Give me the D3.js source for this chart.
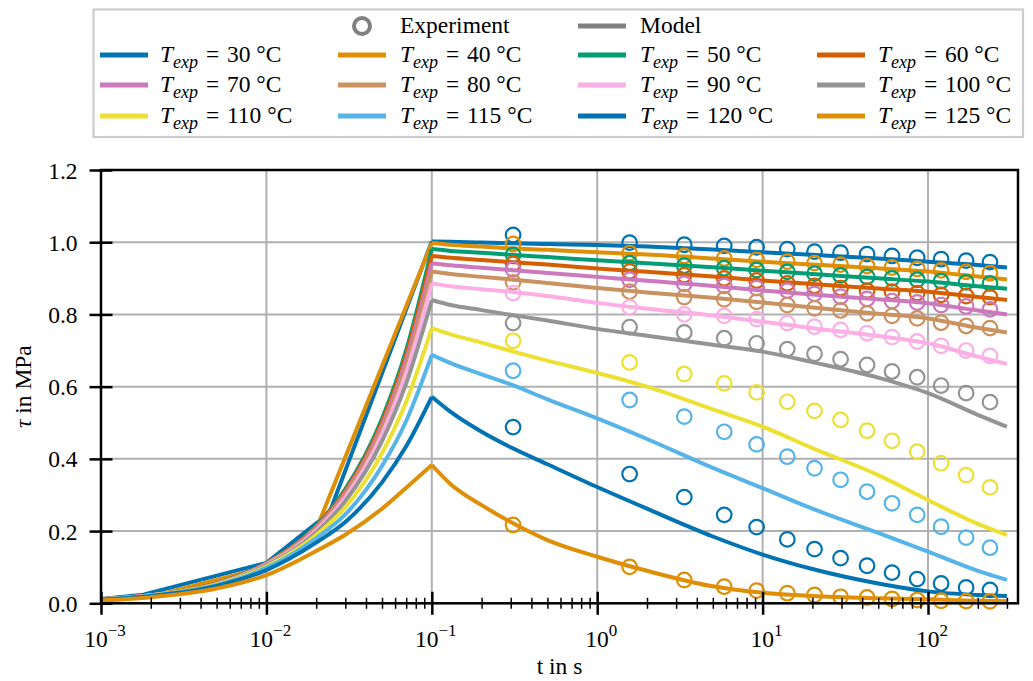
<!DOCTYPE html>
<html>
<head>
<meta charset="utf-8">
<script src="https://cdn.jsdelivr.net/npm/d3@7"></script>
<style>
body { margin: 0; background: #fff; }
svg text { font-family: "Liberation Serif", "DejaVu Serif", serif; fill: #000; }
</style>
</head>
<body>
<svg id="chart" width="1033" height="681"></svg>
<script>
// temperatures of the tests and their colours (colorblind palette)
var temps = [30, 40, 50, 60, 70, 80, 90, 100, 110, 115, 120, 125];
var colors = ["#0173b2", "#de8f05", "#029e73", "#d55e00", "#cc78bc", "#ca9161",
              "#fbafe4", "#949494", "#ece133", "#56b4e9", "#0173b2", "#de8f05"];

// experiment sampling times [s]
var tExp = [0.31, 1.57, 3.36, 5.86, 9.2, 14.1, 20.6, 29.6, 42.8, 60.6, 86, 120, 170, 237];

// measured shear stress [MPa]
var exp30  = [1.020, 0.999, 0.993, 0.990, 0.986, 0.981, 0.974, 0.971, 0.967, 0.962, 0.957, 0.953, 0.949, 0.945];
var exp40  = [0.995, 0.970, 0.962, 0.955, 0.951, 0.946, 0.942, 0.938, 0.934, 0.930, 0.926, 0.922, 0.918, 0.914];
var exp50  = [0.965, 0.942, 0.935, 0.928, 0.923, 0.918, 0.913, 0.908, 0.904, 0.900, 0.896, 0.892, 0.889, 0.886];
var exp60  = [0.940, 0.919, 0.909, 0.900, 0.894, 0.886, 0.879, 0.873, 0.866, 0.863, 0.859, 0.854, 0.851, 0.848];
var exp70  = [0.925, 0.896, 0.885, 0.879, 0.873, 0.866, 0.857, 0.849, 0.843, 0.837, 0.833, 0.826, 0.822, 0.814];
var exp80  = [0.889, 0.863, 0.848, 0.842, 0.835, 0.826, 0.817, 0.811, 0.803, 0.796, 0.789, 0.777, 0.768, 0.762];
var exp90  = [0.859, 0.820, 0.800, 0.796, 0.787, 0.776, 0.766, 0.757, 0.748, 0.737, 0.725, 0.713, 0.700, 0.685];
var exp100 = [0.776, 0.765, 0.750, 0.734, 0.720, 0.704, 0.691, 0.676, 0.660, 0.642, 0.626, 0.603, 0.582, 0.557];
var exp110 = [0.727, 0.667, 0.635, 0.609, 0.584, 0.558, 0.533, 0.508, 0.478, 0.450, 0.420, 0.388, 0.355, 0.321];
var exp115 = [0.644, 0.563, 0.517, 0.475, 0.440, 0.406, 0.374, 0.342, 0.309, 0.277, 0.245, 0.212, 0.182, 0.154];
var exp120 = [0.488, 0.358, 0.294, 0.245, 0.211, 0.177, 0.150, 0.125, 0.104, 0.085, 0.067, 0.055, 0.044, 0.037];
var exp125 = [0.217, 0.101, 0.0645, 0.046, 0.035, 0.028, 0.023, 0.018, 0.016, 0.012, 0.009, 0.007, 0.006, 0.0055];

// model, loading ramp (30 and 40 are coarsely sampled)
var tLoad30 = [0.001, 0.0018, 0.01, 0.024, 0.1];
var tLoad40 = [0.001, 0.002, 0.01, 0.02, 0.1];
var tLoad   = [0.001, 0.002, 0.005, 0.01, 0.02, 0.03, 0.05, 0.07, 0.1];

var load30  = [0.012, 0.024, 0.112, 0.25, 1.002];
var load40  = [0.008, 0.018, 0.100, 0.205, 0.998];
var load50  = [0.011, 0.022, 0.055, 0.112, 0.215, 0.316, 0.511, 0.701, 0.981];
var load60  = [0.011, 0.022, 0.055, 0.111, 0.213, 0.311, 0.502, 0.689, 0.962];
var load70  = [0.011, 0.022, 0.054, 0.110, 0.210, 0.306, 0.493, 0.675, 0.942];
var load80  = [0.011, 0.022, 0.054, 0.109, 0.207, 0.301, 0.484, 0.660, 0.919];
var load90  = [0.011, 0.022, 0.053, 0.107, 0.202, 0.293, 0.469, 0.639, 0.886];
var load100 = [0.011, 0.021, 0.053, 0.105, 0.196, 0.283, 0.449, 0.609, 0.840];
var load110 = [0.011, 0.021, 0.052, 0.102, 0.189, 0.266, 0.416, 0.558, 0.762];
var load115 = [0.011, 0.021, 0.050, 0.098, 0.180, 0.246, 0.380, 0.505, 0.688];
var load120 = [0.010, 0.020, 0.048, 0.092, 0.168, 0.225, 0.335, 0.435, 0.572];
var load125 = [0.008, 0.017, 0.041, 0.078, 0.145, 0.190, 0.262, 0.320, 0.383];

// model, relaxation after the ramp
var tRelax = [0.1, 0.13, 0.2, 0.3, 0.5, 1, 2, 5, 10, 20, 50, 100, 200, 300];
var relax30  = [1.002, 1.001, 0.999, 0.997, 0.995, 0.992, 0.988, 0.980, 0.972, 0.965, 0.955, 0.946, 0.937, 0.930];
var relax40  = [0.998, 0.993, 0.988, 0.983, 0.979, 0.972, 0.966, 0.955, 0.946, 0.938, 0.928, 0.919, 0.905, 0.897];
var relax50  = [0.981, 0.976, 0.971, 0.965, 0.959, 0.950, 0.942, 0.931, 0.921, 0.912, 0.900, 0.891, 0.878, 0.871];
var relax60  = [0.962, 0.957, 0.951, 0.945, 0.938, 0.927, 0.918, 0.905, 0.894, 0.884, 0.872, 0.863, 0.848, 0.840];
var relax70  = [0.942, 0.936, 0.929, 0.923, 0.915, 0.904, 0.893, 0.879, 0.866, 0.855, 0.842, 0.831, 0.811, 0.800];
var relax80  = [0.919, 0.912, 0.904, 0.897, 0.887, 0.873, 0.861, 0.846, 0.833, 0.819, 0.802, 0.789, 0.763, 0.750];
var relax90  = [0.886, 0.878, 0.870, 0.863, 0.851, 0.832, 0.816, 0.797, 0.780, 0.762, 0.740, 0.720, 0.683, 0.663];
var relax100 = [0.840, 0.826, 0.812, 0.799, 0.783, 0.760, 0.741, 0.716, 0.697, 0.668, 0.625, 0.582, 0.522, 0.489];
var relax110 = [0.762, 0.745, 0.722, 0.699, 0.672, 0.638, 0.600, 0.537, 0.489, 0.430, 0.355, 0.286, 0.220, 0.189];
var relax115 = [0.688, 0.665, 0.634, 0.606, 0.565, 0.512, 0.455, 0.375, 0.319, 0.262, 0.195, 0.143, 0.090, 0.065];
var relax120 = [0.572, 0.530, 0.475, 0.432, 0.385, 0.322, 0.262, 0.185, 0.135, 0.095, 0.055, 0.033, 0.023, 0.020];
var relax125 = [0.383, 0.330, 0.272, 0.225, 0.175, 0.129, 0.090, 0.047, 0.029, 0.020, 0.014, 0.011, 0.007, 0.006];

// axis ticks
var xMajor = [1e-3, 1e-2, 1e-1, 1e0, 1e1, 1e2];
var xExpLabels = ["\u22123", "\u22122", "\u22121", "0", "1", "2"];
var yTicks = [0, 0.2, 0.4, 0.6, 0.8, 1.0, 1.2];

var series = [
  { t: 30,  exp: exp30,  tl: tLoad30, load: load30,  relax: relax30,  coarse: true },
  { t: 40,  exp: exp40,  tl: tLoad40, load: load40,  relax: relax40,  coarse: true },
  { t: 50,  exp: exp50,  tl: tLoad,   load: load50,  relax: relax50 },
  { t: 60,  exp: exp60,  tl: tLoad,   load: load60,  relax: relax60 },
  { t: 70,  exp: exp70,  tl: tLoad,   load: load70,  relax: relax70 },
  { t: 80,  exp: exp80,  tl: tLoad,   load: load80,  relax: relax80 },
  { t: 90,  exp: exp90,  tl: tLoad,   load: load90,  relax: relax90 },
  { t: 100, exp: exp100, tl: tLoad,   load: load100, relax: relax100 },
  { t: 110, exp: exp110, tl: tLoad,   load: load110, relax: relax110 },
  { t: 115, exp: exp115, tl: tLoad,   load: load115, relax: relax115 },
  { t: 120, exp: exp120, tl: tLoad,   load: load120, relax: relax120 },
  { t: 125, exp: exp125, tl: tLoad,   load: load125, relax: relax125 }
];

// plot box (names avoid window.top)
var pLeft = 101, pRight = 1018, pTop = 170, pBottom = 603.3;
var fontSize = 23.5;

var x = d3.scaleLog().domain([1e-3, 350]).range([pLeft, pRight]);
var y = d3.scaleLinear().domain([0, 1.2]).range([pBottom, pTop]);

var svg = d3.select("#chart");

// grid
var grid = svg.append("g").attr("stroke", "#b0b0b0").attr("stroke-width", 2);
grid.selectAll(".gx").data(xMajor).enter().append("line")
  .attr("x1", function(d){ return x(d); }).attr("x2", function(d){ return x(d); })
  .attr("y1", pTop).attr("y2", pBottom);
grid.selectAll(".gy").data(yTicks).enter().append("line")
  .attr("x1", pLeft).attr("x2", pRight)
  .attr("y1", function(d){ return y(d); }).attr("y2", function(d){ return y(d); });

// data
var loadLine = d3.line().x(function(d){ return x(d[0]); }).y(function(d){ return y(d[1]); }).curve(d3.curveMonotoneX);
var coarseLine = d3.line().x(function(d){ return x(d[0]); }).y(function(d){ return y(d[1]); });
var relaxLine = d3.line().x(function(d){ return x(d[0]); }).y(function(d){ return y(d[1]); }).curve(d3.curveMonotoneX);

var plot = svg.append("g");

series.forEach(function(s, i)
{
  var col = colors[i];
  var g = plot.append("g");

  g.selectAll("circle").data(d3.zip(tExp, s.exp)).enter().append("circle")
    .attr("cx", function(d){ return x(d[0]); })
    .attr("cy", function(d){ return y(d[1]); })
    .attr("r", 7.3)
    .attr("fill", "none")
    .attr("stroke", col)
    .attr("stroke-width", 2.2);

  var lineFn = s.coarse ? coarseLine : loadLine;
  g.append("path").attr("d", lineFn(d3.zip(s.tl, s.load)))
    .attr("fill", "none").attr("stroke", col).attr("stroke-width", 4)
    .attr("stroke-linejoin", "round");
  g.append("path").attr("d", relaxLine(d3.zip(tRelax, s.relax)))
    .attr("fill", "none").attr("stroke", col).attr("stroke-width", 4)
    .attr("stroke-linejoin", "round");
});

// spines
svg.append("rect").attr("x", pLeft).attr("y", pTop)
  .attr("width", pRight - pLeft).attr("height", pBottom - pTop)
  .attr("fill", "none").attr("stroke", "#000").attr("stroke-width", 2.5);

// x axis, major + minor ticks (inout)
var xAxis = svg.append("g").attr("transform", "translate(0," + pBottom + ")")
  .call(d3.axisBottom(x).tickValues(xMajor).tickSizeInner(11.5).tickSizeOuter(0).tickFormat(""));
xAxis.select(".domain").remove();
xAxis.selectAll(".tick line").attr("y1", -11.5).attr("stroke-width", 2.5);

var xMinor = [];
xMajor.forEach(function(m){
  for( var k = 2; k < 10; k++ )
  {
    if( m * k < 350 ) xMinor.push(m * k);
  }
});
var xAxisMinor = svg.append("g").attr("transform", "translate(0," + pBottom + ")")
  .call(d3.axisBottom(x).tickValues(xMinor).tickSizeInner(5.5).tickSizeOuter(0).tickFormat(""));
xAxisMinor.select(".domain").remove();
xAxisMinor.selectAll(".tick line").attr("y1", -5.5).attr("stroke-width", 1.5);

// x tick labels 10^n
var xl = svg.append("g");
xMajor.forEach(function(m, i){
  var t = xl.append("text").attr("x", x(m) + 4).attr("y", 647)
    .attr("text-anchor", "middle").attr("font-size", fontSize);
  t.append("tspan").text("10");
  t.append("tspan").attr("dy", -11).attr("font-size", 17).text(xExpLabels[i]);
});

// y axis
var yAxis = svg.append("g").attr("transform", "translate(" + pLeft + ",0)")
  .call(d3.axisLeft(y).tickValues(yTicks).tickSizeInner(11.5).tickSizeOuter(0).tickPadding(12)
    .tickFormat(d3.format(".1f")));
yAxis.select(".domain").remove();
yAxis.selectAll(".tick line").attr("x1", 11.5).attr("stroke-width", 2.5);
yAxis.selectAll(".tick text").attr("font-size", fontSize).attr("font-family", "Liberation Serif")
  .attr("dy", "0.34em");

// axis labels
var ylab = svg.append("text").attr("transform", "translate(31," + ((pTop + pBottom) / 2) + ") rotate(-90)")
  .attr("text-anchor", "middle").attr("font-size", fontSize);
ylab.append("tspan").attr("font-style", "italic").text("\u03c4");
ylab.append("tspan").text(" in MPa");

svg.append("text").attr("x", (pLeft + pRight) / 2).attr("y", 674)
  .attr("text-anchor", "middle").attr("font-size", fontSize).text("t in s");

// legend
var legend = svg.append("g");
legend.append("rect").attr("x", 93.5).attr("y", 9.5).attr("width", 929.5).attr("height", 127.5)
  .attr("fill", "#fff").attr("stroke", "#cccccc").attr("stroke-width", 2.2);

var legendRows = [[null, "exp", "model", null], [30, 40, 50, 60], [70, 80, 90, 100], [110, 115, 120, 125]];
var colHandle = [100, 338, 578, 817];
var colText = [160, 400, 640, 878];
var rowY = [26, 55, 85, 116];

legendRows.forEach(function(row, r){
  row.forEach(function(item, c){
    if( item === null ) return;
    var cy = rowY[r];
    var hx = colHandle[c];
    if( item == "exp" )
    {
      legend.append("circle").attr("cx", hx + 24).attr("cy", cy).attr("r", 8)
        .attr("fill", "none").attr("stroke", "#808080").attr("stroke-width", 4);
      legend.append("text").attr("x", colText[c]).attr("y", cy + 7).attr("font-size", fontSize).text("Experiment");
      return;
    }
    var col = "#808080";
    if( item != "model" ) col = colors[temps.indexOf(item)];
    legend.append("line").attr("x1", hx).attr("x2", hx + 48).attr("y1", cy).attr("y2", cy)
      .attr("stroke", col).attr("stroke-width", 5);
    var txt = legend.append("text").attr("x", colText[c]).attr("y", cy + 7).attr("font-size", fontSize);
    if( item == "model" )
    {
      txt.text("Model");
      return;
    }
    txt.append("tspan").attr("font-style", "italic").text("T");
    txt.append("tspan").attr("font-style", "italic").attr("font-size", 18).attr("dy", 6).text("exp");
    txt.append("tspan").attr("dy", -6).text("\u2004=\u2004" + item + "\u2005\u00b0C");
  });
});
</script>
</body>
</html>
